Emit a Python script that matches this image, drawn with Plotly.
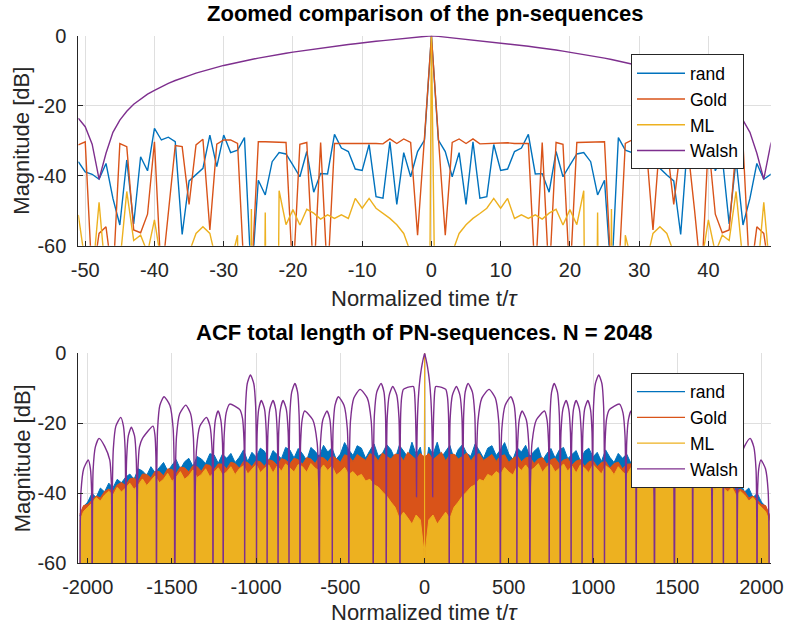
import plotly.graph_objects as go

# ---------------- data: zoomed view (lags 0..51, ACF is symmetric) ----------------
LAG_TOP = list(range(0, 52))
RAND_TOP = [0, -29.8, -33.1, -40.3, -33.4, -48.2, -30.3, -46.4, -46.0, -31.1,
            -38.5, -38.1, -33.1, -32.1, -28.2, -39.5, -39.4, -44.7, -33.1, -40.3,
            -37.0, -33.8, -33.4, -36.0, -45.5, -41.3, -70, -29.1, -32.7, -33.4,
            -28.4, -37.4, -28.4, -37.9, -39.8, -41.5, -56.8, -30.3, -29.0, -29.8,
            -26.5, -38.6, -34.6, -53.8, -35.5, -54.1, -46.5, -36.5, -41.0, -39.6,
            -38.9, -36.0]
GOLD_TOP = [0, -29.0, -57.0, -30.5, -29.5, -30.8, -29.5, -30.9, -30.8, -30.7,
            -30.6, -30.6, -30.8, -30.8, -30.8, -70, -30.5, -70, -30.5, -31.0,
            -70, -30.5, -30.4, -30.4, -30.3, -30.3, -70, -70, -30.8, -29.8,
            -29.8, -31.0, -55.5, -29.6, -31.2, -48.2, -31.7, -31.4, -49.8, -70,
            -30.3, -51.0, -56.3, -55.5, -31.7, -30.8, -70, -54.6, -56.5, -70,
            -30.3, -31.2]
ML_TOP = [0, -300, -300, -62, -56.5, -54.0, -52.2, -50.8, -49.3, -46.5,
          -49.3, -46.5, -52.2, -51.2, -52.2, -51.2, -52.4, -50.7, -49.6, -54.1,
          -49.7, -54.0, -44.3, -300, -50.5, -300, -49.5, -300, -57.0, -65,
          -300, -65, -56.5, -54.6, -56.5, -62, -300, -300, -300, -65,
          -52.6, -62, -57.0, -58.5, -44.5, -65, -300, -70, -47.6, -70,
          -65, -51.2]
WALSH_TOP = [0, -0.2, -0.4, -0.6, -0.8, -1.0, -1.2, -1.4, -1.6, -1.8,
             -2.0, -2.3, -2.5, -2.8, -3.0, -3.3, -3.5, -3.8, -4.1, -4.4,
             -4.7, -5.0, -5.3, -5.7, -6.0, -6.4, -6.8, -7.2, -7.6, -8.1,
             -8.5, -9.0, -9.5, -10.1, -10.7, -11.4, -12.0, -12.8, -13.6, -14.5,
             -15.6, -16.7, -18.1, -19.6, -21.6, -24.1, -27.6, -33.6, -41.0, -31.0,
             -26.0, -23.6]

# ---------------- data: full length view (upper edges of the dense traces) ----------------
LAG_BOT = [0, 1, 4] + list(range(25, 2026, 25)) + [2047]
RAND_BOT = [0, -29.8, -33.4,
            -26.8, -28.9, -25.4, -29.7, -27.9, -26.3, -30.2, -27.5,
            -26.1, -28.6, -29.4, -25.9, -27.8, -30.0, -27.1, -26.4,
            -29.2, -27.6, -25.5, -28.8, -30.3, -27.0, -28.2, -26.3,
            -29.5, -28.0, -26.9, -30.6, -28.7, -27.2, -29.9, -27.6,
            -26.9, -30.1, -28.9, -27.8, -30.8, -28.0, -27.1, -29.6,
            -28.3, -30.9, -27.6, -29.7, -31.2, -28.6, -30.0, -28.8,
            -31.4, -29.0, -28.7, -31.5, -30.2, -29.5, -32.3, -30.0,
            -31.0, -33.1, -30.4, -32.0, -33.6, -31.2, -32.6, -34.1,
            -32.4, -34.9, -33.6, -33.0, -36.0, -34.5, -35.4, -37.0,
            -36.0, -38.4, -37.1, -39.6, -38.5, -41.2, -40.0, -42.5,
            -43.8, -46.5]
GOLD_BOT = [0, -29.0, -29.5,
            -28.6, -30.4, -29.3, -28.3, -30.7, -29.0, -28.8, -30.2,
            -29.5, -28.5, -30.8, -29.1, -28.7, -30.6, -29.8, -28.9,
            -30.9, -29.4, -29.0, -31.2, -30.0, -29.3, -31.0, -29.9,
            -29.6, -31.5, -30.2, -29.8, -31.7, -30.4, -30.0, -31.6,
            -30.5, -30.1, -32.0, -30.8, -30.4, -32.3, -31.0, -30.7,
            -32.4, -31.2, -30.9, -32.8, -31.5, -31.1, -33.0, -31.7,
            -31.6, -33.3, -32.0, -31.8, -33.7, -32.4, -32.1, -33.9,
            -32.7, -32.5, -34.4, -33.2, -33.0, -35.0, -33.8, -33.7,
            -35.6, -34.6, -34.5, -36.6, -35.6, -35.9, -37.8, -36.9,
            -37.6, -39.5, -38.8, -39.5, -41.3, -40.8, -41.9, -43.2,
            -43.5, -46.0]
ML_BOT = [0, -300, -56.5,
          -47.6, -46.2, -48.8, -47.0, -45.4, -47.2, -44.0, -42.5,
          -40.8, -39.6, -38.2, -37.6, -36.0, -36.5, -34.6, -35.2,
          -33.8, -34.6, -32.6, -33.9, -34.8, -32.2, -33.5, -31.9,
          -33.6, -32.8, -31.5, -34.0, -32.4, -31.8, -33.9, -32.9,
          -31.6, -33.7, -32.2, -34.2, -31.9, -32.8, -34.1, -31.8,
          -33.2, -34.5, -32.1, -33.0, -34.7, -32.4, -33.9, -34.8,
          -32.7, -34.0, -35.3, -33.0, -34.6, -35.5, -33.3, -35.0,
          -36.0, -33.8, -35.4, -36.6, -34.3, -36.0, -37.0, -35.0,
          -36.4, -37.8, -35.9, -37.6, -38.9, -37.1, -38.5, -39.6,
          -38.3, -40.6, -39.4, -40.5, -42.2, -41.2, -42.8, -44.0,
          -45.2, -48.0]

# Walsh, full length (positive lags; one row per lobe)
WALSH_BOT_T = [0, 4, 8, 12, 16, 20, 24, 28, 32, 35, 38, 40, 42, 44, 45, 46, 47, 48, 49, 50,
               51, 53, 56, 60, 66, 90, 115, 126, 136, 142, 145, 146,
               148, 152, 165, 189, 210, 222, 226, 228,
               229, 232, 241, 258, 284, 298, 303, 305,
               308, 317, 340, 383, 420, 440, 447, 450,
               452, 459, 478, 512, 532, 543, 547, 548,
               549, 553, 562, 579, 604, 618, 623, 625,
               628, 638, 664, 712, 727, 736, 739, 740,
               741, 745, 754, 770, 789, 800, 804, 805,
               806, 810, 821, 840, 856, 866, 869, 870,
               871, 875, 884, 900, 919, 930, 934, 935,
               936, 940, 950, 969, 985, 994, 997, 998,
               999, 1003, 1014, 1034, 1053, 1063, 1067, 1068,
               1069, 1072, 1081, 1097, 1157, 1178, 1190, 1194, 1196,
               1197, 1200, 1210, 1226, 1242, 1252, 1255, 1256,
               1258, 1262, 1274, 1295, 1334, 1354, 1362, 1365,
               1367, 1373, 1389, 1418, 1454, 1473, 1480, 1483,
               1486, 1493, 1512, 1547, 1572, 1585, 1590, 1592,
               1593, 1595, 1601, 1612, 1675, 1693, 1702, 1706, 1707,
               1708, 1712, 1722, 1741, 1759, 1769, 1773, 1774,
               1775, 1778, 1788, 1804, 1833, 1848, 1854, 1856,
               1857, 1860, 1869, 1900, 1933, 1955, 1968, 1972, 1974,
               1975, 1977, 1984, 1997, 2024, 2040, 2045, 2047]
WALSH_BOT_DB = [0, -0.8, -1.6, -2.5, -3.5, -4.7, -6.0, -7.6, -9.5, -11.4, -13.6, -15.6, -18.1, -21.6, -24.1, -27.6, -33.6, -41, -31, -26,
                -23.6, -19, -14.5, -11, -9.5, -9.6, -10, -10.3, -12.5, -17.5, -30, -90,
                -31.5, -18.5, -12.0, -9.5, -12.0, -18.5, -31.5, -90,
                -30.6, -17.6, -11.1, -8.6, -11.1, -17.6, -30.6, -90,
                -32.3, -19.3, -12.8, -10.3, -12.8, -19.3, -32.3, -90,
                -34.4, -21.4, -14.9, -12.4, -14.9, -21.4, -34.4, -90,
                -38.5, -25.5, -19.0, -16.5, -19.0, -25.5, -38.5, -90,
                -38.5, -25.5, -19.0, -16.5, -19.0, -25.5, -38.5, -90,
                -30.6, -17.6, -11.1, -8.6, -11.1, -17.6, -30.6, -90,
                -35.5, -22.5, -16.0, -13.5, -16.0, -22.5, -35.5, -90,
                -35.5, -22.5, -16.0, -13.5, -16.0, -22.5, -35.5, -90,
                -35.5, -22.5, -16.0, -13.5, -16.0, -22.5, -35.5, -90,
                -28.2, -15.2, -8.7, -6.2, -8.7, -15.2, -28.2, -90,
                -38.1, -25.1, -18.6, -16.1, -14.5, -17.0, -23.5, -36.5, -90,
                -38.5, -25.5, -19.0, -16.5, -19.0, -25.5, -38.5, -90,
                -40.3, -27.3, -20.8, -18.3, -20.8, -27.3, -40.3, -90,
                -36.8, -23.8, -17.3, -14.8, -17.3, -23.8, -36.8, -90,
                -34.4, -21.4, -14.9, -12.4, -14.9, -21.4, -34.4, -90,
                -42.8, -29.8, -23.3, -20.8, -24.3, -26.8, -33.3, -46.3, -90,
                -43.1, -30.1, -23.6, -21.1, -23.6, -30.1, -43.1, -90,
                -40.3, -27.3, -20.8, -18.3, -20.8, -27.3, -40.3, -90,
                -48.0, -37.0, -30.5, -26.5, -24.3, -26.8, -33.3, -46.3, -90,
                -52.5, -39.5, -33.0, -30.5, -33.0, -39.5, -52.5, -90]

NAMES = ["rand", "Gold", "ML", "Walsh"]
COLORS = ["#0072BD", "#D95319", "#EDB120", "#7E2F8E"]
TOP_XTICKS = [-50, -40, -30, -20, -10, 0, 10, 20, 30, 40]
BOT_XTICKS = [-2000, -1500, -1000, -500, 0, 500, 1000, 1500, 2000]
YTICKS = [-60, -40, -20, 0]

assert len(WALSH_BOT_T) == len(WALSH_BOT_DB)
assert len(LAG_BOT) == len(RAND_BOT) == len(GOLD_BOT) == len(ML_BOT)


def mirror(lags, vals):
    x = [-l for l in reversed(lags[1:])] + list(lags)
    y = list(reversed(vals[1:])) + list(vals)
    return x, y


W, H = 789, 634
FONT = "Liberation Sans, Arial, Helvetica, sans-serif"
AX = "#262626"
GRID = "#DFDFDF"
X0, X1 = 78.3, 770.7
TOP_Y0, TOP_Y1 = 35.7, 245.7
BOT_Y0, BOT_Y1 = 353.3, 563.3


def px(x):
    return x / W


def py(y):
    return 1 - y / H


fig = go.Figure()

# top subplot
for name, col, vals in zip(NAMES, COLORS, [RAND_TOP, GOLD_TOP, ML_TOP, WALSH_TOP]):
    x, y = mirror(LAG_TOP, vals)
    fig.add_trace(go.Scatter(x=x, y=y, mode="lines", name=name,
                             line=dict(color=col, width=1.4),
                             xaxis="x", yaxis="y", legend="legend"))

# bottom subplot: dense traces as filled envelopes
for name, col, vals in zip(NAMES[:3], COLORS[:3], [RAND_BOT, GOLD_BOT, ML_BOT]):
    x, y = mirror(LAG_BOT, vals)
    xs = x + [x[-1], x[0]]
    ys = y + [-70, -70]
    fig.add_trace(go.Scatter(x=xs, y=ys, mode="lines", fill="toself",
                             fillcolor=col, line=dict(color=col, width=1),
                             showlegend=False, hoverinfo="skip",
                             xaxis="x2", yaxis="y2"))
x, y = mirror(WALSH_BOT_T, WALSH_BOT_DB)
fig.add_trace(go.Scatter(x=x, y=y, mode="lines",
                         line=dict(color=COLORS[3], width=1.4, shape="spline", smoothing=0.6),
                         showlegend=False, xaxis="x2", yaxis="y2"))
for name, col in zip(NAMES, COLORS):
    fig.add_trace(go.Scatter(x=[None], y=[None], mode="lines", name=name,
                             line=dict(color=col, width=1.4),
                             xaxis="x2", yaxis="y2", legend="legend2"))

axis_common = dict(showline=True, linecolor=AX, linewidth=1, ticks="inside", ticklen=5,
                   tickcolor=AX, tickwidth=1, showgrid=True, gridcolor=GRID, gridwidth=1,
                   zeroline=False, tickfont=dict(family=FONT, size=20, color=AX), mirror=False,
                   automargin=False)
xax = dict(axis_common, ticklabelstandoff=6)
yax = dict(axis_common, ticklabelstandoff=7)

leg_common = dict(xanchor="left", yanchor="top", bgcolor="white", bordercolor=AX,
                  borderwidth=1, itemwidth=48, tracegroupgap=0,
                  font=dict(family=FONT, size=17.5, color="black"))

fig.update_layout(
    template="none",
    width=W, height=H, margin=dict(l=0, r=0, t=0, b=0, pad=0, autoexpand=False),
    paper_bgcolor="white", plot_bgcolor="white",
    xaxis=dict(domain=[px(X0), px(X1)], anchor="y", range=[-51, 49],
               tickvals=TOP_XTICKS, ticktext=[str(v) for v in TOP_XTICKS], **xax),
    yaxis=dict(domain=[py(TOP_Y1), py(TOP_Y0)], anchor="x", range=[-60, 0],
               tickvals=YTICKS, ticktext=[str(v) for v in YTICKS], **yax),
    xaxis2=dict(domain=[px(X0), px(X1)], anchor="y2", range=[-2056, 2055],
                tickvals=BOT_XTICKS, ticktext=[str(v) for v in BOT_XTICKS], **xax),
    yaxis2=dict(domain=[py(BOT_Y1), py(BOT_Y0)], anchor="x2", range=[-60, 0],
                tickvals=YTICKS, ticktext=[str(v) for v in YTICKS], **yax),
    legend=dict(x=px(631), y=py(54.3), **leg_common),
    legend2=dict(x=px(631), y=py(372.7), **leg_common),
    showlegend=True,
)

ann = [
    dict(text="<b>Zoomed comparison of the pn-sequences</b>", x=px(424.5), y=py(14), size=22),
    dict(text="Normalized time t/<i>τ</i>", x=px(424.5), y=py(299), size=22),
    dict(text="<b>ACF total length of PN-sequences. N = 2048</b>", x=px(424.5), y=py(332), size=22),
    dict(text="Normalized time t/<i>τ</i>", x=px(424.5), y=py(612), size=22),
]
for a in ann:
    fig.add_annotation(text=a["text"], x=a["x"], y=a["y"], xref="paper", yref="paper",
                       xanchor="center", yanchor="middle", showarrow=False,
                       font=dict(family=FONT, size=a["size"], color="black" if "<b>" in a["text"] else AX))
for yc in [(TOP_Y0 + TOP_Y1) / 2, (BOT_Y0 + BOT_Y1) / 2]:
    fig.add_annotation(text="Magnitude [dB]", x=px(22), y=py(yc), xref="paper", yref="paper",
                       xanchor="center", yanchor="middle", showarrow=False, textangle=-90,
                       font=dict(family=FONT, size=22, color=AX))

fig.write_html("out.html")
